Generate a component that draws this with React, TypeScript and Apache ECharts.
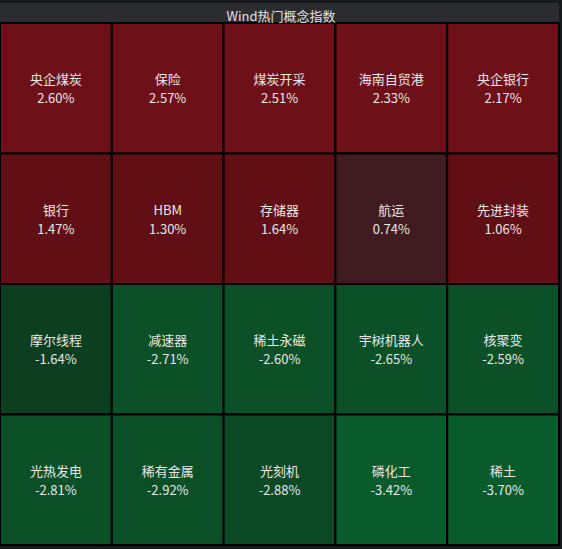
import React, { useEffect, useRef } from "react";
import * as echarts from "echarts";

const title = "Wind热门概念指数";
const rows = ["r1", "r2", "r3", "r4"];
const cols = ["c1", "c2", "c3", "c4", "c5"];
const names = [
  ["央企煤炭", "保险", "煤炭开采", "海南自贸港", "央企银行"],
  ["银行", "HBM", "存储器", "航运", "先进封装"],
  ["摩尔线程", "减速器", "稀土永磁", "宇树机器人", "核聚变"],
  ["光热发电", "稀有金属", "光刻机", "磷化工", "稀土"],
];
const values = [
  [2.6, 2.57, 2.51, 2.33, 2.17],
  [1.47, 1.3, 1.64, 0.74, 1.06],
  [-1.64, -2.71, -2.6, -2.65, -2.59],
  [-2.81, -2.92, -2.88, -3.42, -3.7],
];
const cellColors = [
  ["#6e1017", "#6e1017", "#6e1017", "#6e1017", "#6e1017"],
  ["#600f14", "#600f14", "#600f14", "#401b1f", "#600f14"],
  ["#0c3f20", "#0b5027", "#0b5027", "#0b5027", "#0b5027"],
  ["#0b4f27", "#0b4f27", "#0b4a24", "#095b2c", "#095b2c"],
];

export default function App() {
  const ref = useRef<HTMLDivElement>(null);
  useEffect(() => {
    document.body.style.margin = "0";
    if (!ref.current) return;
    const chart = echarts.init(ref.current, null, { renderer: "svg" });
    const data: any[] = [];
    rows.forEach((_, r) =>
      cols.forEach((_, c) => {
        data.push({
          name: names[r][c],
          value: [c, r, values[r][c]],
        });
      })
    );
    chart.setOption({
      animation: false,
      backgroundColor: "#17191d",
      graphic: [
        {
          type: "rect",
          shape: { x: 0, y: 3, width: 559, height: 20 },
          style: { fill: "#2b2c30" },
          z: -1,
        },
      ],
      title: {
        text: title,
        left: "center",
        top: 4,
        textStyle: {
          color: "#e0e0e0",
          fontSize: 13,
          fontWeight: "normal",
          fontFamily: "Noto Sans CJK SC",
        },
      },
      grid: { left: -1, right: 3, top: 23, bottom: 4 },
      xAxis: { type: "category", data: cols, show: false },
      yAxis: { type: "category", data: rows, inverse: true, show: false },
      series: [
        {
          type: "custom",
          data,
          encode: { x: 0, y: 1 },
          renderItem: (params: any, api: any) => {
            const c = api.value(0);
            const r = api.value(1);
            const v = api.value(2);
            const center = api.coord([c, r]);
            const size = api.size([1, 1]);
            const x = center[0] - size[0] / 2;
            const y = center[1] - size[1] / 2;
            return {
              type: "group",
              children: [
                {
                  type: "rect",
                  shape: { x, y, width: size[0], height: size[1] },
                  style: {
                    fill: cellColors[r][c],
                    stroke: "#000",
                    lineWidth: 2,
                  },
                },
                {
                  type: "text",
                  x: center[0],
                  y: center[1],
                  style: {
                    text: `${names[r][c]}\n${v.toFixed(2)}%`,
                    fill: "#e8e8e8",
                    fontSize: 13,
                    lineHeight: 19,
                    fontFamily: "Noto Sans CJK SC",
                    align: "center",
                    verticalAlign: "middle",
                  },
                },
              ],
            };
          },
        },
      ],
    });
    return () => chart.dispose();
  }, []);
  return <div ref={ref} style={{ width: 562, height: 549 }} />;
}
